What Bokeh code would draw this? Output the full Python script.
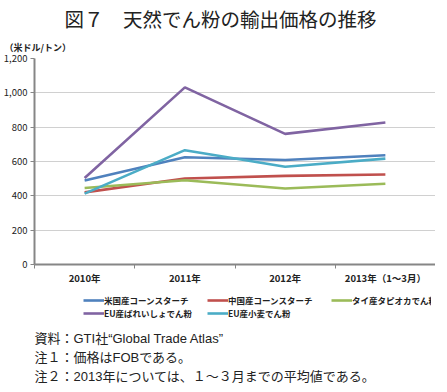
from bokeh.plotting import figure
from bokeh.layouts import column
from bokeh.models import (Range1d, FixedTicker, NumeralTickFormatter, Legend,
                          LegendItem, Title, Label)
from bokeh.embed import file_html
from bokeh.resources import INLINE

years = ["2010年", "2011年", "2012年", "2013年（1～3月）"]
us_corn = [489, 625, 609, 636]
cn_corn = [420, 501, 516, 524]
th_tapioca = [446, 491, 443, 470]
eu_potato = [504, 1032, 761, 827]
eu_wheat = [413, 666, 569, 617]
series = [us_corn, cn_corn, th_tapioca, eu_potato, eu_wheat]
names = ["米国産コーンスターチ", "中国産コーンスターチ", "タイ産タピオカでん粉",
         "EU産ばれいしょでん粉", "EU産小麦でん粉"]
colors = ["#4F81BD", "#C0504D", "#9BBB59", "#8064A2", "#4BACC6"]
yticks = [0, 200, 400, 600, 800, 1000, 1200]
title_text = "図７　天然でん粉の輸出価格の推移"
unit_text = "（米ドル/トン）"
notes = ["資料：GTI社“Global Trade Atlas”",
         "注１：価格はFOBである。",
         "注２：2013年については、１～３月までの平均値である。"]

FONT = "Noto Sans CJK JP"
NOTE_FONT = "'Liberation Sans', 'Noto Sans CJK JP'"
TXT = "#222222"
xpos = [i + 0.5 for i in range(len(years))]

# ---------------- main chart ----------------
p = figure(frame_width=401, frame_height=206, x_range=Range1d(0, 4),
           y_range=Range1d(0, 1200), title=None,
           output_backend="svg", toolbar_location=None,
           min_border_left=30, min_border_right=0, min_border_top=0,
           min_border_bottom=20)
p.outline_line_color = None
p.background_fill_color = "white"

p.xaxis.ticker = FixedTicker(ticks=xpos, minor_ticks=[0, 1, 2, 3, 4])
p.xaxis.major_label_overrides = {x: y for x, y in zip(xpos, years)}
p.xaxis.major_tick_out = 0
p.xaxis.major_tick_in = 0
p.xaxis.minor_tick_out = 4
p.xaxis.minor_tick_in = 0
p.xaxis.minor_tick_line_color = "#868686"
p.xaxis.major_label_text_font = FONT
p.xaxis.major_label_text_font_style = "bold"
p.xaxis.major_label_text_font_size = "9.5px"
p.xaxis.major_label_text_color = TXT
p.xaxis.major_label_standoff = 2

p.yaxis.ticker = FixedTicker(ticks=yticks)
p.yaxis.formatter = NumeralTickFormatter(format="0,0")
p.yaxis.major_tick_out = 4
p.yaxis.major_tick_in = 0
p.yaxis.minor_tick_out = 0
p.yaxis.minor_tick_in = 0
p.yaxis.major_tick_line_color = "#868686"
p.yaxis.major_label_text_font = FONT
p.yaxis.major_label_text_font_size = "9.5px"
p.yaxis.major_label_text_color = TXT
p.yaxis.major_label_standoff = 3

for ax in (p.xaxis, p.yaxis):
    ax.axis_line_color = "#868686"
    ax.axis_line_width = 2

p.xgrid.grid_line_color = None
p.ygrid.grid_line_color = "#a0a0a0"
p.ygrid.grid_line_dash = "1 1"
p.ygrid.ticker = FixedTicker(ticks=yticks[1:])

for s, c in zip(series, colors):
    p.line(xpos, s, line_color=c, line_width=2.6)

# titles above: first added is nearest the frame
p.add_layout(Title(text=unit_text, align="left", offset=-30,
                   text_font=FONT, text_font_size="9px",
                   text_font_style="bold", text_color=TXT,
                   standoff=10), "above")
p.add_layout(Title(text=title_text, align="left", offset=30,
                   text_font=FONT, text_font_size="19.5px",
                   text_font_style="normal", text_color=TXT,
                   standoff=2), "above")

# ---------------- footer: legend + notes ----------------
f = figure(width=431, height=104, x_range=Range1d(100, 101), y_range=Range1d(0, 1),
           x_axis_type=None, y_axis_type=None, title=None,
           output_backend="svg", toolbar_location=None,
           min_border_left=0, min_border_right=0, min_border_top=0,
           min_border_bottom=0)
f.outline_line_color = None
f.xgrid.visible = False
f.ygrid.visible = False

items = {}
for s, n, c in zip(series, names, colors):
    r = f.line(xpos, s, line_color=c, line_width=2.6)
    items[n] = LegendItem(label=n, renderers=[r])
# legend fills column by column: order so rows read like the reference
order = [names[0], names[3], names[1], names[4], names[2]]

legend = Legend(items=[items[n] for n in order], ncols=3, location=(49, 72),
                label_text_font=FONT, label_text_font_size="8.5px",
                label_text_font_style="bold", label_text_color=TXT,
                glyph_width=21, glyph_height=12, label_height=12,
                label_width=102, label_standoff=0, spacing=1, padding=0,
                margin=0, border_line_color=None, background_fill_alpha=0)
f.add_layout(legend)

for i, t in enumerate(notes):
    f.add_layout(Label(x=0, y=53 - 19 * i, x_units="screen", y_units="screen",
                       text=t, text_font=NOTE_FONT, text_font_size="13px",
                       text_align="left", text_baseline="middle",
                       text_color=TXT))

open("out.html", "w").write(file_html(column(p, f, spacing=0), INLINE))
